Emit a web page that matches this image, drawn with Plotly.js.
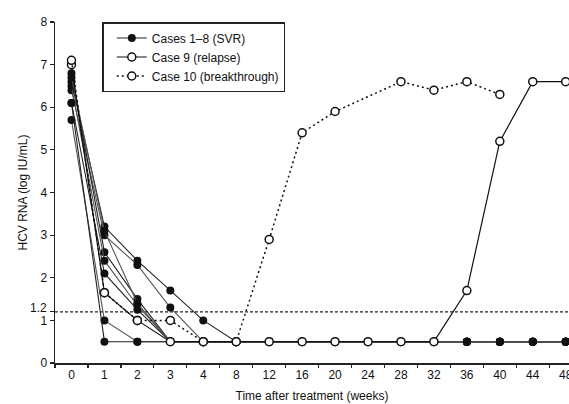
<!DOCTYPE html>
<html>
<head>
<meta charset="utf-8">
<script src="https://cdn.plot.ly/plotly-3.0.1.min.js"></script>
<style>html,body{margin:0;padding:0;background:#fff;}#chart{width:569px;height:404px;}</style>
</head>
<body>
<div id="chart"></div>
<script>
// Time points (weeks after treatment start), equally spaced categories
var weeks = ["0","1","2","3","4","8","12","16","20","24","28","32","36","40","44","48"];
var yTicks = [0, 1, 1.2, 2, 3, 4, 5, 6, 7, 8];
var yTickText = ["0", "1", "", "2", "3", "4", "5", "6", "7", "8"];
var cutoff = 1.2;
var cutoffLabel = "1.2";

// Cases 1-8 (SVR) - HCV RNA log IU/mL
var svr1 = [6.6, 3.2, 2.4, 1.7, 1.0, 0.5, 0.5, 0.5, 0.5, 0.5, 0.5, 0.5, 0.5, 0.5, 0.5, 0.5];
var svr2 = [6.4, 3.0, 2.3, 1.3, 0.5, 0.5, 0.5, 0.5, 0.5, 0.5, 0.5, 0.5, 0.5, 0.5, 0.5, 0.5];
var svr3 = [6.8, 2.6, 1.5, 0.5, 0.5, 0.5, 0.5, 0.5, 0.5, 0.5, 0.5, 0.5, 0.5, 0.5, 0.5, 0.5];
var svr4 = [6.5, 2.4, 1.35, 0.5, 0.5, 0.5, 0.5, 0.5, 0.5, 0.5, 0.5, 0.5, 0.5, 0.5, 0.5, 0.5];
var svr5 = [6.1, 2.1, 1.25, 0.5, 0.5, 0.5, 0.5, 0.5, 0.5, 0.5, 0.5, 0.5, 0.5, 0.5, 0.5, 0.5];
var svr6 = [5.7, 1.0, 0.5, 0.5, 0.5, 0.5, 0.5, 0.5, 0.5, 0.5, 0.5, 0.5, 0.5, 0.5, 0.5, 0.5];
var svr7 = [6.1, 0.5, 0.5, 0.5, 0.5, 0.5, 0.5, 0.5, 0.5, 0.5, 0.5, 0.5, 0.5, 0.5, 0.5, 0.5];
var svr8 = [6.7, 3.1, 1.4, 0.5, 0.5, 0.5, 0.5, 0.5, 0.5, 0.5, 0.5, 0.5, 0.5, 0.5, 0.5, 0.5];
// Case 9 (relapse)
var case9 = [7.0, 1.65, 1.0, 0.5, 0.5, 0.5, 0.5, 0.5, 0.5, 0.5, 0.5, 0.5, 1.7, 5.2, 6.6, 6.6];
// Case 10 (breakthrough)
var case10 = [7.1, 1.65, 1.0, 1.0, 0.5, 0.5, 2.9, 5.4, 5.9, null, 6.6, 6.4, 6.6, 6.3, null, null];

var svrAll = [svr1, svr2, svr3, svr4, svr5, svr6, svr7, svr8];
var ink = '#111';
var traces = [];
svrAll.forEach(function(vals, i){
  traces.push({
    x: weeks, y: vals, type: 'scatter', mode: 'lines+markers',
    name: 'Cases 1–8 (SVR)', legendgroup: 'svr', showlegend: i === 0,
    line: {color: i % 2 ? '#555' : '#222', width: 1.1},
    marker: {symbol: 'circle', size: 8, color: ink, line: {color: ink, width: 0}}
  });
});
traces.push({
  x: weeks, y: case9, type: 'scatter', mode: 'lines+markers',
  name: 'Case 9 (relapse)',
  line: {color: ink, width: 1.2},
  marker: {symbol: 'circle', size: 8, color: '#fff', line: {color: ink, width: 1.5}}
});
traces.push({
  x: weeks, y: case10, type: 'scatter', mode: 'lines+markers', connectgaps: true,
  name: 'Case 10 (breakthrough)',
  line: {color: ink, width: 1.5, dash: '2px,3px'},
  marker: {symbol: 'circle', size: 8, color: '#fff', line: {color: ink, width: 1.5}}
});

var layout = {
  width: 569, height: 404,
  margin: {l: 55, r: 0, t: 22, b: 41},
  paper_bgcolor: '#fff', plot_bgcolor: '#fff',
  font: {family: 'Liberation Sans, Arial, sans-serif', size: 12, color: ink},
  showlegend: true,
  legend: {
    x: 0.092, y: 1.0, xanchor: 'left', yanchor: 'top',
    bgcolor: '#fff', bordercolor: '#222', borderwidth: 1.5,
    font: {size: 12, color: ink}, indentation: 8, tracegroupgap: 0
  },
  xaxis: {
    type: 'category', categoryorder: 'array', categoryarray: weeks,
    range: [-0.5, 15.1], tickson: 'boundaries',
    showline: true, linecolor: '#222', linewidth: 1.5,
    ticks: 'outside', ticklen: 3, tickcolor: '#222', tickwidth: 1.2,
    showgrid: false, zeroline: false,
    tickfont: {size: 12},
    title: {text: 'Time after treatment (weeks)', font: {size: 12}, standoff: 10}
  },
  yaxis: {
    range: [0, 8], tickvals: yTicks, ticktext: yTickText,
    showline: true, linecolor: '#222', linewidth: 1.5,
    ticks: 'outside', ticklen: 4, tickcolor: '#222', tickwidth: 1.2,
    showgrid: false, zeroline: false,
    tickfont: {size: 12},
    title: {text: 'HCV RNA (log IU/mL)', font: {size: 12}, standoff: 10}
  },
  annotations: [{
    xref: 'paper', x: 0, yref: 'y', y: cutoff, text: cutoffLabel,
    showarrow: false, xanchor: 'right', yanchor: 'middle',
    xshift: -6, yshift: 4, font: {size: 12, color: ink}
  }],
  shapes: [{
    type: 'line', xref: 'paper', x0: 0, x1: 1, yref: 'y', y0: cutoff, y1: cutoff,
    line: {color: '#222', width: 1.3, dash: '3px,2px'}, layer: 'below'
  }]
};

Plotly.newPlot('chart', traces, layout, {displayModeBar: false, staticPlot: true});
</script>
</body>
</html>
